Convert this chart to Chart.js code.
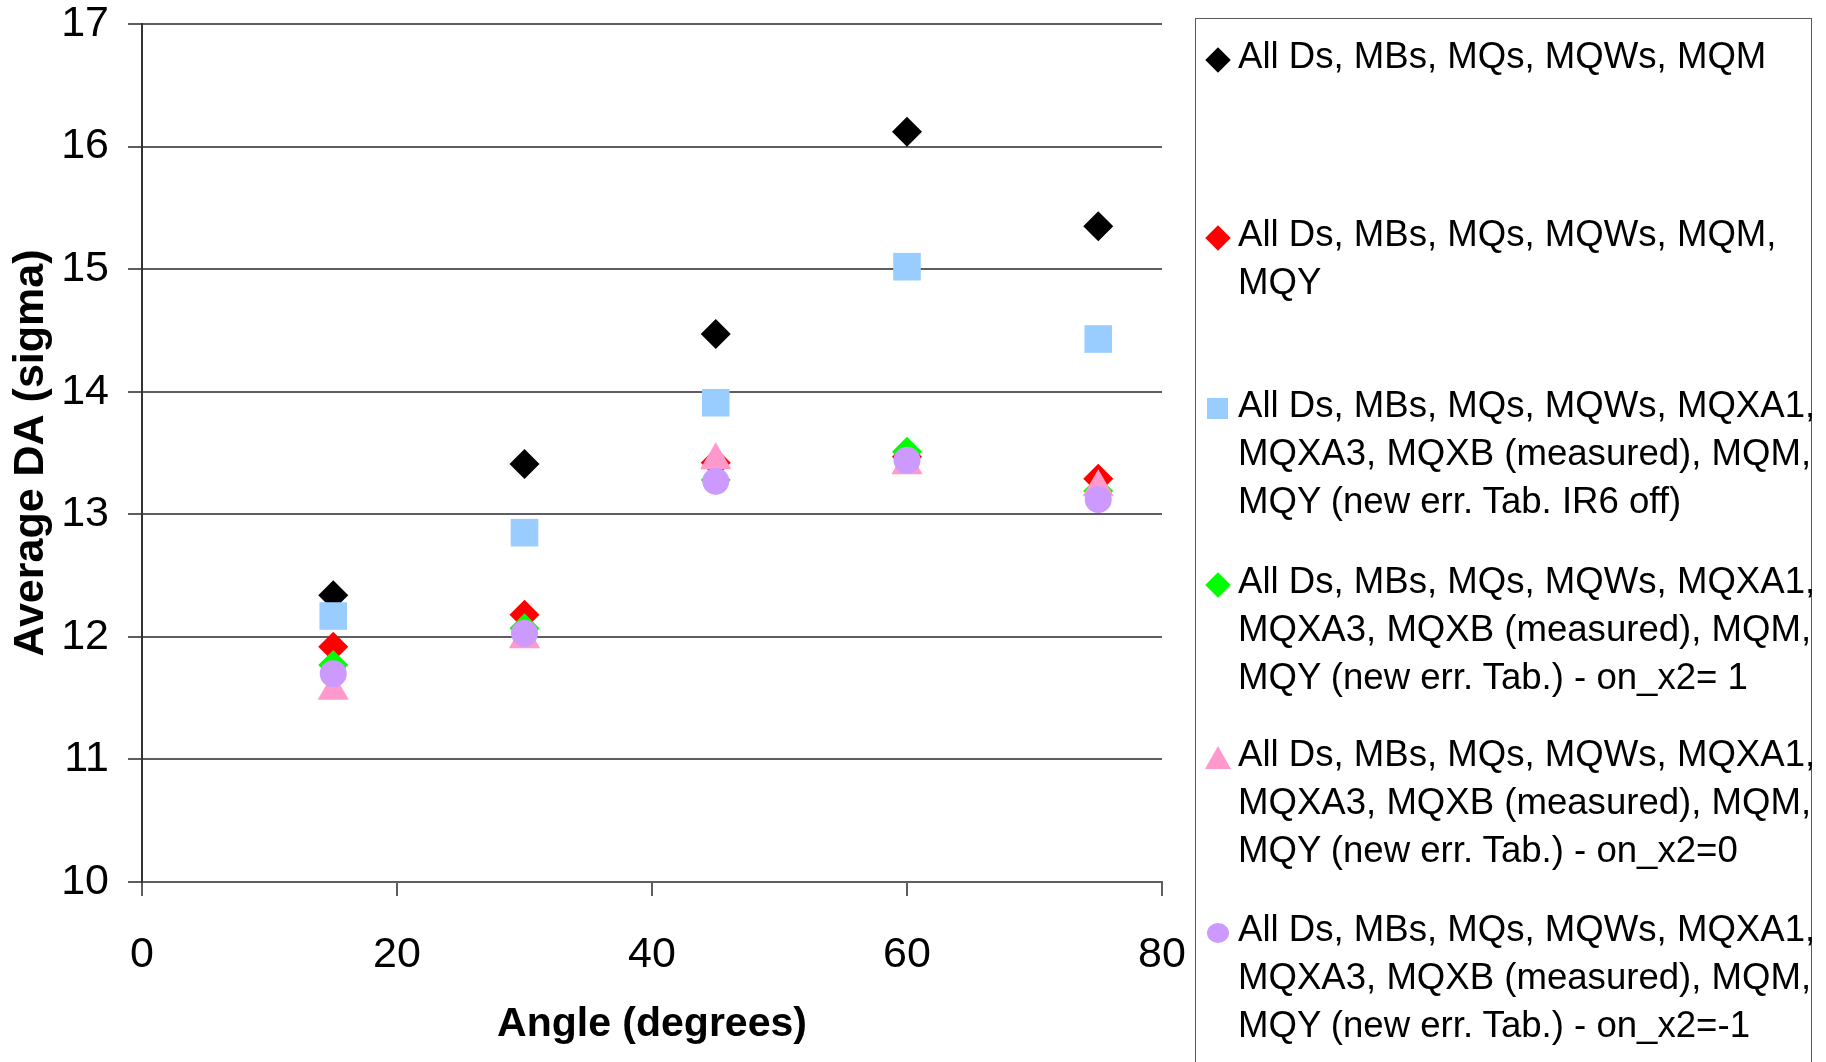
<!DOCTYPE html>
<html>
<head>
<meta charset="utf-8">
<script src="https://cdn.jsdelivr.net/npm/chart.js@4.4.1/dist/chart.umd.min.js"></script>
<style>
  body { margin: 0; background: #fff; }
  #wrap { position: relative; width: 1826px; height: 1062px; overflow: hidden; }
  #grafica { position: absolute; left: 0; top: 0; }
  #leyenda {
    position: absolute; left: 1195px; top: 18px; width: 617px; height: 1100px;
    border: 1px solid #5a5a5a; box-sizing: border-box;
    font-family: "Liberation Sans", Arial, sans-serif; font-size: 36.6px; line-height: 48px; color: #000;
  }
  .item { position: absolute; left: 42px; white-space: nowrap; }
  .mk { position: absolute; }
</style>
</head>
<body>
<div id="wrap">
  <canvas id="grafica" width="1826" height="1062"></canvas>
  <div id="leyenda"></div>
</div>
<script>
// datos
const angulos = [15, 30, 45, 60, 75];
const daTodos = [12.34, 13.41, 14.47, 16.12, 15.35];
const daMqy = [11.92, 12.18, 13.42, 13.47, 13.29];
const daIr6Off = [12.17, 12.85, 13.91, 15.02, 14.43];
const daOnX2Uno = [11.77, 12.07, 13.28, 13.51, 13.19];
const daOnX2Cero = [11.56, 11.98, 13.44, 13.40, 13.22];
const daOnX2Menos = [11.70, 12.03, 13.27, 13.44, 13.12];

const etiquetas = [
    ['All Ds, MBs, MQs, MQWs, MQM'],
    ['All Ds, MBs, MQs, MQWs, MQM,', 'MQY'],
    ['All Ds, MBs, MQs, MQWs, MQXA1,', 'MQXA3, MQXB (measured), MQM,', 'MQY (new err. Tab. IR6 off)'],
    ['All Ds, MBs, MQs, MQWs, MQXA1,', 'MQXA3, MQXB (measured), MQM,', 'MQY (new err. Tab.) - on_x2= 1'],
    ['All Ds, MBs, MQs, MQWs, MQXA1,', 'MQXA3, MQXB (measured), MQM,', 'MQY (new err. Tab.) - on_x2=0'],
    ['All Ds, MBs, MQs, MQWs, MQXA1,', 'MQXA3, MQXB (measured), MQM,', 'MQY (new err. Tab.) - on_x2=-1']
];
const ticksY = [10, 11, 12, 13, 14, 15, 16, 17];
const ticksX = [0, 20, 40, 60, 80];

const series = [daTodos, daMqy, daIr6Off, daOnX2Uno, daOnX2Cero, daOnX2Menos];
const colores = ['#000000', '#ff0000', '#99ccff', '#00ff00', '#ff99cc', '#cc99ff'];
const estilos = ['rectRot', 'rectRot', 'rect', 'rectRot', 'triangle', 'circle'];
const radios = [15, 15, 19.5, 15, 18, 13.5];

const fuente = '"Liberation Sans", Arial, sans-serif';

const datasets = series.map((vals, i) => ({
    label: etiquetas[i].join(' '),
    data: vals.map((v, j) => ({ x: angulos[j], y: v })),
    backgroundColor: colores[i],
    borderColor: colores[i],
    borderWidth: 0,
    pointStyle: estilos[i],
    pointRadius: radios[i],
    pointHoverRadius: radios[i],
    order: series.length - i
}));

const ctx = document.getElementById('grafica').getContext('2d');
new Chart(ctx, {
    type: 'scatter',
    data: { datasets: datasets },
    options: {
        responsive: false,
        animation: false,
        layout: { padding: { left: 0, top: 24, right: 664, bottom: 0 } },
        plugins: { legend: { display: false }, tooltip: { enabled: false } },
        scales: {
            x: {
                type: 'linear', min: 0, max: 80,
                afterBuildTicks: s => { s.ticks = ticksX.map(v => ({ value: v })); },
                afterFit: s => { s.height = 180; s.paddingLeft = 0; s.paddingRight = 0; },
                grid: { drawOnChartArea: false, drawTicks: true, tickLength: 14, color: '#5e5e5e', lineWidth: 2 },
                border: { color: '#5e5e5e', width: 2 },
                ticks: { color: '#000', padding: 33, font: { family: fuente, size: 43 } },
                title: { display: true, text: 'Angle (degrees)', color: '#000', padding: { top: 0, bottom: 13 },
                         font: { family: fuente, size: 41, weight: 'bold' } }
            },
            y: {
                type: 'linear', min: 10, max: 17,
                afterBuildTicks: s => { s.ticks = ticksY.map(v => ({ value: v })); },
                afterFit: s => { s.width = 142; s.paddingTop = 0; s.paddingBottom = 0; },
                grid: { drawTicks: true, tickLength: 14, color: '#5e5e5e', lineWidth: 2 },
                border: { color: '#333333', width: 2 },
                ticks: { color: '#000', padding: 19, font: { family: fuente, size: 43 } },
                title: { display: true, text: 'Average DA (sigma)', color: '#000', padding: { top: 5, bottom: 0 },
                         font: { family: fuente, size: 43, weight: 'bold' } }
            }
        }
    }
});

// leyenda en HTML (etiquetas de varias lineas)
const leyenda = document.getElementById('leyenda');
const topes = [13, 191, 362, 538, 711, 886];
etiquetas.forEach((lineas, i) => {
    const item = document.createElement('div');
    item.className = 'item';
    item.style.top = topes[i] + 'px';
    item.innerHTML = lineas.join('<br>');
    leyenda.appendChild(item);

    const mk = document.createElement('div');
    mk.className = 'mk';
    const cy = topes[i] + 28;
    const cx = 22;
    if (estilos[i] === 'rectRot') {
        mk.style.cssText = `left:${cx - 9}px;top:${cy - 9}px;width:18px;height:18px;background:${colores[i]};transform:rotate(45deg);`;
    } else if (estilos[i] === 'rect') {
        mk.style.cssText = `left:${cx - 11}px;top:${cy - 11}px;width:21px;height:21px;background:${colores[i]};`;
    } else if (estilos[i] === 'triangle') {
        mk.style.cssText = `left:${cx - 13}px;top:${cy - 12}px;width:0;height:0;border-left:13px solid transparent;border-right:13px solid transparent;border-bottom:23px solid ${colores[i]};`;
    } else {
        mk.style.cssText = `left:${cx - 11}px;top:${cy - 10}px;width:22px;height:20px;border-radius:50%;background:${colores[i]};`;
    }
    leyenda.appendChild(mk);
});
</script>
</body>
</html>
